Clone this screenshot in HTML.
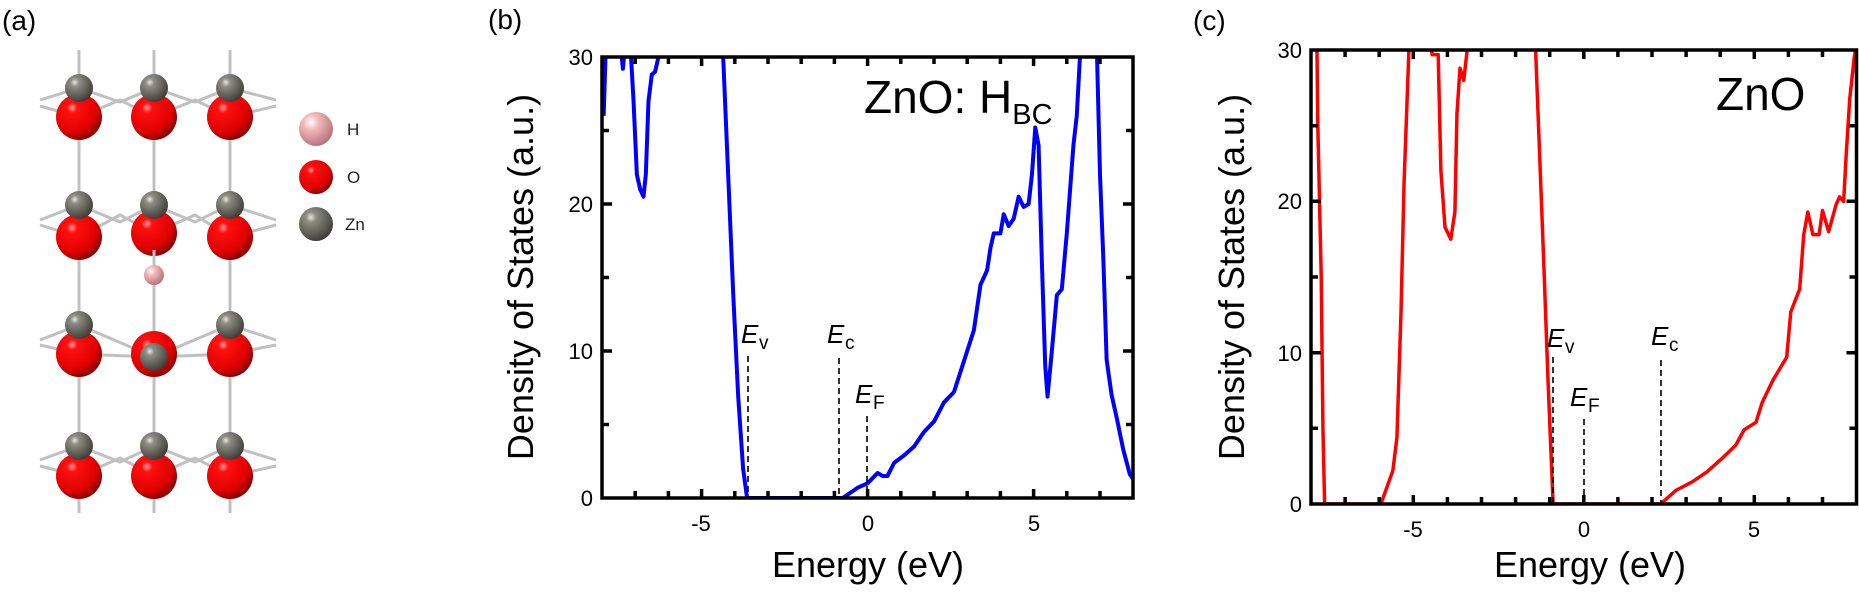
<!DOCTYPE html>
<html><head><meta charset="utf-8"><style>
html,body{margin:0;padding:0;background:#fff;}
svg{display:block;font-family:"Liberation Sans",Arial,sans-serif;}
</style></head><body>
<svg width="1859" height="595" viewBox="0 0 1859 595" xmlns="http://www.w3.org/2000/svg">
<defs>
<radialGradient id="gO" cx="0.35" cy="0.3" r="0.75"><stop offset="0" stop-color="#ff9a9a"/><stop offset="0.15" stop-color="#ff1010"/><stop offset="0.7" stop-color="#e00000"/><stop offset="1" stop-color="#800000"/></radialGradient>
<radialGradient id="gZ" cx="0.35" cy="0.3" r="0.75"><stop offset="0" stop-color="#e8e8e0"/><stop offset="0.2" stop-color="#8e8e84"/><stop offset="1" stop-color="#3a3a34"/></radialGradient>
<radialGradient id="gH" cx="0.35" cy="0.3" r="0.75"><stop offset="0" stop-color="#ffffff"/><stop offset="0.3" stop-color="#f4b8bc"/><stop offset="1" stop-color="#b07078"/></radialGradient>
<clipPath id="cb"><rect x="602" y="57" width="531" height="441"/></clipPath>
<clipPath id="cc"><rect x="1311" y="50" width="546" height="454"/></clipPath>
</defs>

<!-- Panel (a) -->
<text x="2" y="30" font-size="28">(a)</text>
<g stroke="#c0c0c0" stroke-width="3" fill="none">
<line x1="79" y1="50" x2="79" y2="513"/><line x1="154" y1="50" x2="154" y2="513"/><line x1="230" y1="50" x2="230" y2="513"/>
<polyline points="40,100 79,88 120,102 154,88 195,102 230,88 276,100"/>
<polyline points="40,106 79,117 120,100 154,117 195,100 230,117 276,106"/>
<polyline points="40,220 79,205 120,222 154,205 195,222 230,205 276,220"/>
<polyline points="40,225 79,237 120,215 154,233 195,215 230,237 276,225"/>
<polyline points="40,340 79,325 154,357 230,325 276,340"/>
<polyline points="40,345 79,354 154,357 230,354 276,345"/>
<polyline points="40,460 79,446 120,462 154,446 195,462 230,446 276,460"/>
<polyline points="40,466 79,476 120,458 154,476 195,458 230,476 276,466"/>
</g>
<g>
<circle cx="79" cy="117" r="23" fill="url(#gO)"/><circle cx="154" cy="117" r="23" fill="url(#gO)"/><circle cx="230" cy="117" r="23" fill="url(#gO)"/>
<circle cx="79" cy="88" r="14" fill="url(#gZ)"/><circle cx="154" cy="88" r="14" fill="url(#gZ)"/><circle cx="230" cy="88" r="14" fill="url(#gZ)"/>
<circle cx="79" cy="237" r="23" fill="url(#gO)"/><circle cx="154" cy="233" r="23" fill="url(#gO)"/><circle cx="230" cy="237" r="23" fill="url(#gO)"/>
<circle cx="79" cy="205" r="14" fill="url(#gZ)"/><circle cx="154" cy="205" r="14" fill="url(#gZ)"/><circle cx="230" cy="205" r="14" fill="url(#gZ)"/>
<line x1="154" y1="250" x2="154" y2="268" stroke="#c0c0c0" stroke-width="3"/>
<circle cx="154" cy="275" r="10" fill="url(#gH)"/>
<circle cx="79" cy="354" r="23" fill="url(#gO)"/><circle cx="154" cy="354" r="23" fill="url(#gO)"/><circle cx="230" cy="354" r="23" fill="url(#gO)"/>
<circle cx="79" cy="325" r="14" fill="url(#gZ)"/><circle cx="154" cy="357" r="14" fill="url(#gZ)"/><circle cx="230" cy="325" r="14" fill="url(#gZ)"/>
<circle cx="79" cy="476" r="23" fill="url(#gO)"/><circle cx="154" cy="476" r="23" fill="url(#gO)"/><circle cx="230" cy="476" r="23" fill="url(#gO)"/>
<circle cx="79" cy="446" r="14" fill="url(#gZ)"/><circle cx="154" cy="446" r="14" fill="url(#gZ)"/><circle cx="230" cy="446" r="14" fill="url(#gZ)"/>
<circle cx="316" cy="129" r="17" fill="url(#gH)"/>
<circle cx="316" cy="177" r="17" fill="url(#gO)"/>
<circle cx="316" cy="224" r="17" fill="url(#gZ)"/>
</g>
<g font-size="17" fill="#222"><text x="347" y="135">H</text><text x="347" y="183">O</text><text x="345" y="230">Zn</text></g>

<!-- Panel (b) -->
<text x="488" y="29" font-size="28">(b)</text>
<g clip-path="url(#cb)">
<g transform="translate(602,498) scale(33.2,-14.7)" fill="none" stroke="#0000ff" stroke-linejoin="round">
<path vector-effect="non-scaling-stroke" stroke-width="4" d="M0.05,26 L0.12,31"/>
<path vector-effect="non-scaling-stroke" stroke-width="4" d="M0.55,31 L0.63,29.2 L0.7,31"/>
<path vector-effect="non-scaling-stroke" stroke-width="4" d="M0.85,31 L0.95,27 L1.05,22 L1.15,21 L1.25,20.5 L1.32,22 L1.4,27 L1.5,28.8 L1.6,29 L1.7,30 L1.75,31"/>
<path vector-effect="non-scaling-stroke" stroke-width="4" d="M3.62,31 L3.65,30 L3.8,22 L3.95,14 L4.1,7 L4.25,2 L4.37,0 L7.25,0 L7.7,0.7 L8,1 L8.3,1.7 L8.45,1.5 L8.6,1.5 L8.8,2.4 L9.1,2.9 L9.4,3.5 L9.7,4.5 L10,5.2 L10.3,6.5 L10.6,7.2 L10.8,8.6 L11.2,11.4 L11.4,14.5 L11.6,15.5 L11.7,17 L11.8,18 L12,18 L12.1,19.3 L12.25,18.5 L12.4,19 L12.55,20.5 L12.7,19.8 L12.85,20 L12.95,22 L13.05,25.2 L13.15,24 L13.25,16 L13.35,9 L13.42,6.9 L13.55,10 L13.7,13.8 L13.85,14.2 L14,18 L14.2,24 L14.3,26 L14.42,31"/>
<path vector-effect="non-scaling-stroke" stroke-width="4" d="M14.9,31 L15,22 L15.1,16.3 L15.2,9.4 L15.35,7 L15.5,5.5 L15.7,3.3 L15.9,1.6 L16.1,1"/>
</g>
</g>
<g stroke="#000" stroke-width="1.6" stroke-dasharray="6,4">
<line x1="748" y1="356" x2="748" y2="498"/><line x1="839" y1="358" x2="839" y2="498"/><line x1="867" y1="416" x2="867" y2="498"/>
</g>
<g stroke="#000" stroke-width="3.5">
<path d="M635.2,498v-7M668.4,498v-7M701.6,498v-9M734.8,498v-7M768,498v-7M801.2,498v-7M834.4,498v-7M867.6,498v-9M900.8,498v-7M934,498v-7M967.2,498v-7M1000.4,498v-7M1033.6,498v-9M1066.8,498v-7M1100,498v-7"/>
<path d="M635.2,57v7M668.4,57v7M701.6,57v9M734.8,57v7M768,57v7M801.2,57v7M834.4,57v7M867.6,57v9M900.8,57v7M934,57v7M967.2,57v7M1000.4,57v7M1033.6,57v9M1066.8,57v7M1100,57v7"/>
<path d="M602,424.5h7M602,351h10M602,277.5h7M602,204h10M602,130.5h7M1133,424.5h-7M1133,351h-10M1133,277.5h-7M1133,204h-10M1133,130.5h-7"/>
<rect x="602" y="57" width="531" height="441" fill="none"/>
</g>
<g font-size="22" text-anchor="end"><text x="593" y="506">0</text><text x="593" y="359">10</text><text x="593" y="212">20</text><text x="593" y="65">30</text></g>
<g font-size="22" text-anchor="middle"><text x="701" y="531">-5</text><text x="868" y="531">0</text><text x="1034" y="531">5</text></g>
<text x="868" y="577" font-size="36" text-anchor="middle">Energy (eV)</text>
<text transform="translate(533,277) rotate(-90)" font-size="36" text-anchor="middle">Density of States (a.u.)</text>
<text x="864" y="113" font-size="46">ZnO: H<tspan font-size="29" dy="11">BC</tspan></text>
<g font-size="26"><text x="741" y="343" font-style="italic">E</text><text x="759" y="349" font-size="19">v</text>
<text x="827" y="343" font-style="italic">E</text><text x="845" y="349" font-size="19">c</text>
<text x="855" y="403" font-style="italic">E</text><text x="873" y="409" font-size="19">F</text></g>

<!-- Panel (c) -->
<text x="1193" y="30" font-size="28">(c)</text>
<g clip-path="url(#cc)">
<g transform="translate(1311,504) scale(34.1,-15.13)" fill="none" stroke="#ff0000" stroke-linejoin="round">
<path vector-effect="non-scaling-stroke" stroke-width="3.5" d="M0.17,31 L0.2,25 L0.3,15 L0.35,5 L0.4,0 L2.05,0 L2.4,2.2 L2.52,4.4 L2.64,12.7 L2.73,21.3 L2.87,29.9 L2.95,31"/>
<path vector-effect="non-scaling-stroke" stroke-width="3.5" d="M3.5,31 L3.55,29.7 L3.73,29.7 L3.81,22 L3.93,18.3 L4.1,17.5 L4.22,19.3 L4.28,25.8 L4.37,28.8 L4.48,28 L4.63,31"/>
<path vector-effect="non-scaling-stroke" stroke-width="3.5" d="M6.57,31 L6.83,15.7 L6.95,8.2 L7.1,0 L10.25,0 L10.7,0.9 L11.17,1.45 L11.6,2.1 L12.05,3 L12.46,3.9 L12.7,4.9 L13.05,5.4 L13.23,6.7 L13.55,8.2 L13.95,9.7 L14.07,12.7 L14.33,14.2 L14.45,17.8 L14.57,19.3 L14.72,17.8 L14.9,17.8 L15,19.4 L15.18,18 L15.4,19.8 L15.5,20.3 L15.62,20 L15.7,23.3 L15.8,26.8 L15.93,29.5 L16.05,31"/>
</g>
</g>
<g stroke="#000" stroke-width="1.6" stroke-dasharray="6,4">
<line x1="1553" y1="357" x2="1553" y2="504"/><line x1="1584" y1="419" x2="1584" y2="504"/><line x1="1661" y1="360" x2="1661" y2="504"/>
</g>
<g stroke="#000" stroke-width="3.5">
<path d="M1345.1,504v-7M1379.2,504v-7M1413.3,504v-9M1447.4,504v-7M1481.5,504v-7M1515.6,504v-7M1549.7,504v-7M1583.8,504v-9M1617.9,504v-7M1652,504v-7M1686.1,504v-7M1720.2,504v-7M1754.3,504v-9M1788.4,504v-7M1822.5,504v-7"/>
<path d="M1345.1,50v7M1379.2,50v7M1413.3,50v9M1447.4,50v7M1481.5,50v7M1515.6,50v7M1549.7,50v7M1583.8,50v9M1617.9,50v7M1652,50v7M1686.1,50v7M1720.2,50v7M1754.3,50v9M1788.4,50v7M1822.5,50v7"/>
<path d="M1311,428.3h7M1311,352.7h10M1311,277h7M1311,201.3h10M1311,125.7h7M1856.5,428.3h-7M1856.5,352.7h-10M1856.5,277h-7M1856.5,201.3h-10M1856.5,125.7h-7"/>
<rect x="1311" y="50" width="545.5" height="454" fill="none"/>
</g>
<g font-size="22" text-anchor="end"><text x="1302" y="512">0</text><text x="1302" y="361">10</text><text x="1302" y="209">20</text><text x="1302" y="58">30</text></g>
<g font-size="22" text-anchor="middle"><text x="1413" y="537">-5</text><text x="1584" y="537">0</text><text x="1754" y="537">5</text></g>
<text x="1590" y="577" font-size="36" text-anchor="middle">Energy (eV)</text>
<text transform="translate(1244,277) rotate(-90)" font-size="36" text-anchor="middle">Density of States (a.u.)</text>
<text x="1716" y="110" font-size="46">ZnO</text>
<g font-size="26"><text x="1547" y="347" font-style="italic">E</text><text x="1565" y="353" font-size="19">v</text>
<text x="1570" y="406" font-style="italic">E</text><text x="1588" y="412" font-size="19">F</text>
<text x="1651" y="345" font-style="italic">E</text><text x="1669" y="351" font-size="19">c</text></g>
</svg>
</body></html>
